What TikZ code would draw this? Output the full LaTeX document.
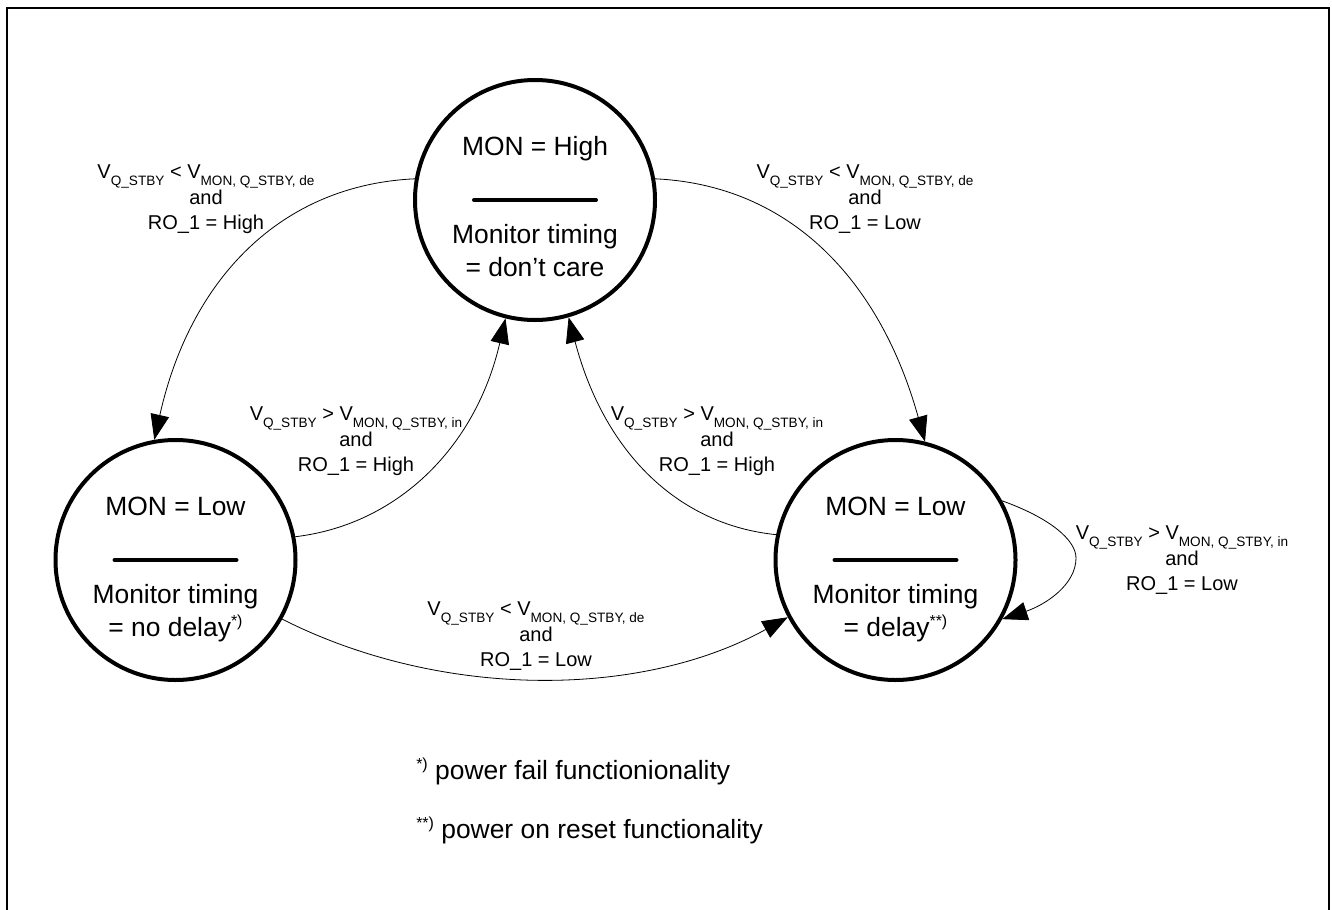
\documentclass[tikz,border=0pt]{standalone}
\usepackage{fontspec}
\setmainfont{Liberation Sans}
\usetikzlibrary{arrows.meta}
\newcommand\subtxt[1]{\raisebox{-5.2pt}{\fontsize{10.2}{12}\selectfont #1}}
\newcommand\condtxt[3]{\lineskiplimit=-100pt V\subtxt{Q\_STBY} #1 V\subtxt{MON, Q\_STBY, #2}\\[0pt]and\\[2.25pt]RO\_1 = #3}
\newcommand\suptxt[1]{\raisebox{7pt}{\fontsize{12}{12}\selectfont #1}}
\tikzset{
  statecircle/.style={draw=black,line width=3pt,circle,minimum size=180pt,inner sep=0pt,fill=white},
  bigtxt/.style={font=\fontsize{19.8}{22}\selectfont,anchor=base,inner sep=0pt},
  condlabel/.style={font=\fontsize{15}{16.5}\selectfont,align=center,inner sep=0pt,anchor=base},
  divider/.style={line width=3pt,line cap=round},
  conn/.style={line width=0.6pt,-{Triangle[length=19pt,width=14pt]}},
  notetxt/.style={font=\fontsize{19.8}{22}\selectfont,anchor=base west,inner sep=0pt},
  framing/.style={line width=1.2pt}
}
\begin{document}
\begin{tikzpicture}[x=0.75pt,y=-0.75pt]
\useasboundingbox (0,0) rectangle (1332,910);
\fill[white] (0,0) rectangle (1332,910);
\coordinate (fa) at (7,910);
\coordinate (fb) at (7,8);
\coordinate (fc) at (1329,8);
\coordinate (fd) at (1329,910);
\draw[framing] (fa) -- (fb) -- (fc) -- (fd);

\node[statecircle] (top) at (535,200) {};
\node[statecircle] (left) at (175.5,560) {};
\node[statecircle] (right) at (895.5,560) {};

\node[bigtxt] (t1) at (535,155) {MON = High};
\node[bigtxt] (t2) at (535,243) {Monitor timing};
\node[bigtxt] (t3) at (535,276) {= don’t care};
\coordinate (d1a) at (474,200); \coordinate (d1b) at (596,200);
\draw[divider] (d1a) -- (d1b);

\node[bigtxt] (l1) at (175.5,515) {MON = Low};
\node[bigtxt] (l2) at (175.5,603) {Monitor timing};
\node[bigtxt] (l3) at (175.5,636) {= no delay\suptxt{*)}};
\coordinate (d2a) at (114.5,560); \coordinate (d2b) at (236.5,560);
\draw[divider] (d2a) -- (d2b);

\node[bigtxt] (r1) at (895.5,515) {MON = Low};
\node[bigtxt] (r2) at (895.5,603) {Monitor timing};
\node[bigtxt] (r3) at (895.5,636) {= delay\suptxt{**)}};
\coordinate (d3a) at (834.5,560); \coordinate (d3b) at (956.5,560);
\draw[divider] (d3a) -- (d3b);

\draw[conn] (top.170) .. controls (280,185) and (190,280) .. (left.100);
\draw[conn] (top.10) .. controls (790,185) and (880,280) .. (right.76);
\draw[conn] (left.11) .. controls (395,525) and (475,450) .. (top.256);
\draw[conn] (right.168) .. controls (680,525) and (605,455) .. (top.286);
\draw[conn] (left.-29.5) .. controls (440,699) and (640,699) .. (right.208);
\coordinate (loop) at (1076,558);
\draw[conn] (right.29) .. controls (1050,518) and (1076,540) .. (loop) .. controls (1076,585) and (1045,605) .. (right.-29.5);

\node[condlabel] (c1) at (206,229) {\condtxt{<}{de}{High}};
\node[condlabel] (c2) at (865,229) {\condtxt{<}{de}{Low}};
\node[condlabel] (c3) at (356,471) {\condtxt{>}{in}{High}};
\node[condlabel] (c4) at (717,471) {\condtxt{>}{in}{High}};
\node[condlabel] (c5) at (536,666) {\condtxt{<}{de}{Low}};
\node[condlabel] (c6) at (1182,590) {\condtxt{>}{in}{Low}};

\node[notetxt] (n1) at (416,779) {\suptxt{*)} power fail functionionality};
\node[notetxt] (n2) at (416,838) {\suptxt{**)} power on reset functionality};
\end{tikzpicture}
\end{document}
